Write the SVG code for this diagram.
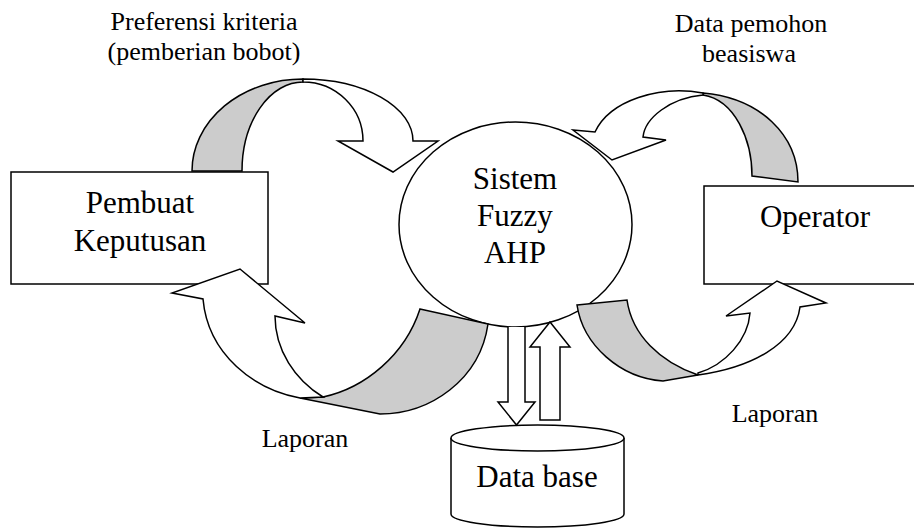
<svg xmlns="http://www.w3.org/2000/svg" width="914" height="528" viewBox="0 0 914 528">
<style>
.s{stroke:#000;stroke-width:1.5;stroke-linejoin:miter;fill:#fff}
.g{stroke:#000;stroke-width:1.5;fill:#cccccc}
.big{font-family:"Liberation Serif","Times New Roman",serif;font-size:31px;fill:#000;text-anchor:middle}
.sm{font-family:"Liberation Serif","Times New Roman",serif;font-size:26px;fill:#000;text-anchor:middle}
</style>
<rect x="0" y="0" width="914" height="528" fill="#fff"/>
<g id="sistem">
<ellipse class="s" cx="515.5" cy="224.5" rx="116.5" ry="102.5"/>
<text class="big" x="515" y="189">Sistem</text>
<text class="big" x="515" y="226">Fuzzy</text>
<text class="big" x="515" y="263">AHP</text>
</g>
<g id="pembuat">
<rect class="s" x="11" y="172" width="257" height="112"/>
<text class="big" x="140" y="213">Pembuat</text>
<text class="big" x="140" y="251">Keputusan</text>
</g>
<g id="operator">
<rect class="s" x="704" y="186" width="230" height="98"/>
<text class="big" x="815" y="227">Operator</text>
</g>
<g id="database">
<path class="s" d="M451,438 L451,514 A86.5,13 0 0 0 624,514 L624,438"/>
<ellipse class="s" cx="537.5" cy="438" rx="86.5" ry="13"/>
<text class="big" x="537" y="487">Data base</text>
</g>
<g id="connectors">
<!-- top-left: Pembuat -> Sistem -->
<path class="g" d="M192,171 A111,92 0 0 1 303,79 L303,82 A61,89 0 0 0 242,171 Z"/>
<path class="s" d="M303,79 A110,62 0 0 1 413,141 L438,141 L393,172 L338,141 L363,141 A60,59 0 0 0 303,82 Z"/>
<!-- top-right: Operator -> Sistem -->
<path class="g" d="M798,182 C798,135 760,98 703,93 L703,95 C735,100 752,140 752,176 Z"/>
<path class="s" d="M703,93 C660,85 610,100 595,132 L573,130 L612,160 L666,140 L643,137 C645,118 670,98 703,95 Z"/>
<!-- bottom-left: Sistem -> Pembuat -->
<path class="g" d="M420,309 L488,324 C480,380 430,414 380,414 L300,398 L323,397 C365,388 405,355 420,309 Z"/>
<path class="s" d="M300,398 C255,390 208,355 203,299 L172,293 L240,269 L305,323 L275,316 C275,350 295,380 323,397 Z"/>
<!-- bottom-right: Sistem -> Operator -->
<path class="g" d="M577,305 L627,300 C632,335 660,362 698,375 L663,381 C620,378 583,345 577,305 Z"/>
<path class="s" d="M698,375 C750,368 795,345 800,307 L826,303 L777,281 L726,316 L750,313 C748,340 725,365 698,373 Z"/>
<!-- vertical arrows to/from database -->
<path class="s" d="M508,327 L508,402 L498,402 L516.5,425 L535,402 L525,402 L525,327"/>
<path class="s" d="M540,420 L540,347 L530,347 L550,322 L570,347 L560,347 L560,420 Z"/>
<text class="sm" x="204" y="30">Preferensi kriteria</text>
<text class="sm" x="204" y="60">(pemberian bobot)</text>
<text class="sm" x="751" y="32">Data pemohon</text>
<text class="sm" x="749" y="62">beasiswa</text>
<text class="sm" x="305" y="447">Laporan</text>
<text class="sm" x="775" y="422">Laporan</text>
</g>
</svg>
